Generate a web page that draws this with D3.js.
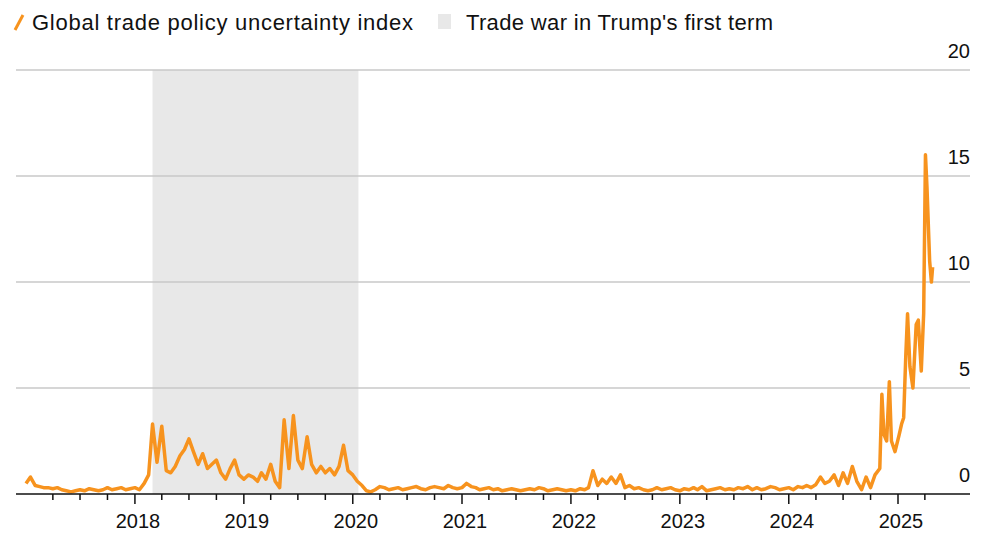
<!DOCTYPE html>
<html lang="en">
  <head>
    <meta charset="utf-8"/>
    <script src="https://d3js.org/d3.v7.min.js"></script>
    <style>
      body { margin: 0; background: #fff; font-family: "Liberation Sans", Arial, sans-serif; }
    </style>
  </head>
  <body>
    <div id="chart"></div>
    <script>
    // semi-monthly readings (1st and 16th of each month)
    var y2017 = [0.5,0.8,0.4,0.35,0.3,0.3,0.25,0.3,0.2,0.15,0.1,0.15,0.2,0.15,0.25,0.2,0.15,0.2,0.3,0.2,0.25,0.3,0.2,0.25];
    var y2018 = [0.3,0.2,0.5,0.9,3.3,1.5,3.2,1.1,1.0,1.3,1.8,2.1,2.6,2.0,1.4,1.9,1.2,1.4,1.6,1.0,0.7,1.2,1.6,0.9];
    var y2019 = [0.7,0.9,0.8,0.6,1.0,0.7,1.4,0.6,0.3,3.5,1.2,3.7,1.6,1.2,2.7,1.4,1.0,1.3,1.0,1.2,0.9,1.3,2.3,1.1];
    var y2020 = [0.9,0.6,0.4,0.15,0.1,0.2,0.35,0.3,0.2,0.25,0.3,0.2,0.25,0.3,0.35,0.25,0.2,0.3,0.35,0.3,0.25,0.4,0.3,0.25];
    var y2021 = [0.3,0.5,0.35,0.3,0.2,0.25,0.3,0.2,0.25,0.15,0.2,0.25,0.2,0.15,0.2,0.25,0.2,0.3,0.25,0.15,0.2,0.25,0.2,0.15];
    var y2022 = [0.2,0.15,0.25,0.2,0.3,1.1,0.4,0.7,0.5,0.8,0.5,0.9,0.3,0.4,0.25,0.3,0.2,0.15,0.2,0.3,0.2,0.25,0.3,0.2];
    var y2023 = [0.15,0.25,0.2,0.3,0.2,0.35,0.15,0.2,0.25,0.3,0.2,0.25,0.2,0.3,0.25,0.35,0.2,0.3,0.2,0.25,0.35,0.3,0.2,0.25];
    var y2024 = [0.3,0.2,0.35,0.3,0.4,0.3,0.45,0.8,0.5,0.6,0.9,0.4,1.0,0.5,1.3,0.6,0.2,0.8,0.3,0.9];
    // the surge, read point by point
    var recentDates = ["2024-11-01","2024-11-08","2024-11-15","2024-11-24","2024-12-03","2024-12-10","2024-12-22",
      "2025-01-05","2025-01-13","2025-01-20","2025-01-27","2025-02-02","2025-02-10","2025-02-20","2025-03-03",
      "2025-03-10","2025-03-20","2025-03-28","2025-04-03","2025-04-08","2025-04-17","2025-04-23","2025-04-27"];
    var recentValues = [1.2,4.7,2.8,2.5,5.3,2.5,2.0,2.8,3.3,3.6,6.5,8.5,6.0,5.0,8.0,8.2,5.8,8.5,16.0,14.5,11.0,10.0,10.7];
    var shadeStart = "2018-03-01", shadeEnd = "2020-01-20";
    var yTicks = [0, 5, 10, 15, 20];
    var years = [2018, 2019, 2020, 2021, 2022, 2023, 2024, 2025];

    var parse = d3.timeParse("%Y-%m-%d");
    var data = [];
    [y2017, y2018, y2019, y2020, y2021, y2022, y2023, y2024].forEach(function(arr, yi) {
      arr.forEach(function(v, i) {
        data.push({date: new Date(2017 + yi, Math.floor(i / 2), i % 2 ? 16 : 1), value: v});
      });
    });
    recentDates.forEach(function(d, i) { data.push({date: parse(d), value: recentValues[i]}); });

    var width = 1000, height = 545;
    var svg = d3.select("#chart").append("svg").attr("width", width).attr("height", height);

    var x = d3.scaleTime().domain([new Date(2017, 0, 1), new Date(2025, 0, 1)]).range([26, 898]);
    var y = d3.scaleLinear().domain([0, 20]).range([494, 70]);

    // shaded period
    svg.append("rect")
      .attr("x", x(parse(shadeStart))).attr("y", y(20))
      .attr("width", x(parse(shadeEnd)) - x(parse(shadeStart)))
      .attr("height", y(0) - y(20))
      .attr("fill", "#e8e8e8");

    // gridlines and labels
    yTicks.forEach(function(t) {
      if (t > 0) {
        svg.append("line").attr("x1", 16).attr("x2", 970).attr("y1", y(t)).attr("y2", y(t))
          .attr("stroke", "#c8c8c8").attr("stroke-width", 1.5);
      }
      svg.append("text").attr("x", 970).attr("y", y(t) - 12).attr("text-anchor", "end")
        .attr("font-size", 20).attr("fill", "#111").text(t);
    });

    // line
    var line = d3.line().x(function(d) { return x(d.date); }).y(function(d) { return y(d.value); });
    svg.append("path").datum(data).attr("d", line)
      .attr("fill", "none").attr("stroke", "#f7931e").attr("stroke-width", 3.5).attr("stroke-linejoin", "round");

    // x axis
    svg.append("line").attr("x1", 16).attr("x2", 970).attr("y1", 494).attr("y2", 494)
      .attr("stroke", "#111").attr("stroke-width", 1.5);
    var quarters = d3.timeMonth.every(3).range(new Date(2017, 3, 1), new Date(2025, 6, 1));
    svg.selectAll(".qtick").data(quarters).enter().append("line")
      .attr("x1", function(d) { return x(d); }).attr("x2", function(d) { return x(d); })
      .attr("y1", 494).attr("y2", function(d) { return d.getMonth() === 0 ? 504 : 500; })
      .attr("stroke", "#111").attr("stroke-width", 1.5);
    svg.selectAll(".yl").data(years).enter().append("text")
      .attr("x", function(d) { return x(new Date(d, 0, 1)) + 3; }).attr("y", 528)
      .attr("text-anchor", "middle").attr("font-size", 20).attr("fill", "#111").text(function(d) { return d; });

    // legend
    svg.append("line").attr("x1", 15).attr("y1", 30).attr("x2", 23).attr("y2", 15)
      .attr("stroke", "#f7931e").attr("stroke-width", 3);
    svg.append("text").attr("x", 32).attr("y", 30).attr("font-size", 22).attr("fill", "#111")
      .attr("textLength", 381).text("Global trade policy uncertainty index");
    svg.append("rect").attr("x", 438).attr("y", 14).attr("width", 13).attr("height", 15).attr("fill", "#e8e8e8");
    svg.append("text").attr("x", 466).attr("y", 30).attr("font-size", 22).attr("fill", "#111")
      .attr("textLength", 307).text("Trade war in Trump's first term");
    </script>
  </body>
</html>
